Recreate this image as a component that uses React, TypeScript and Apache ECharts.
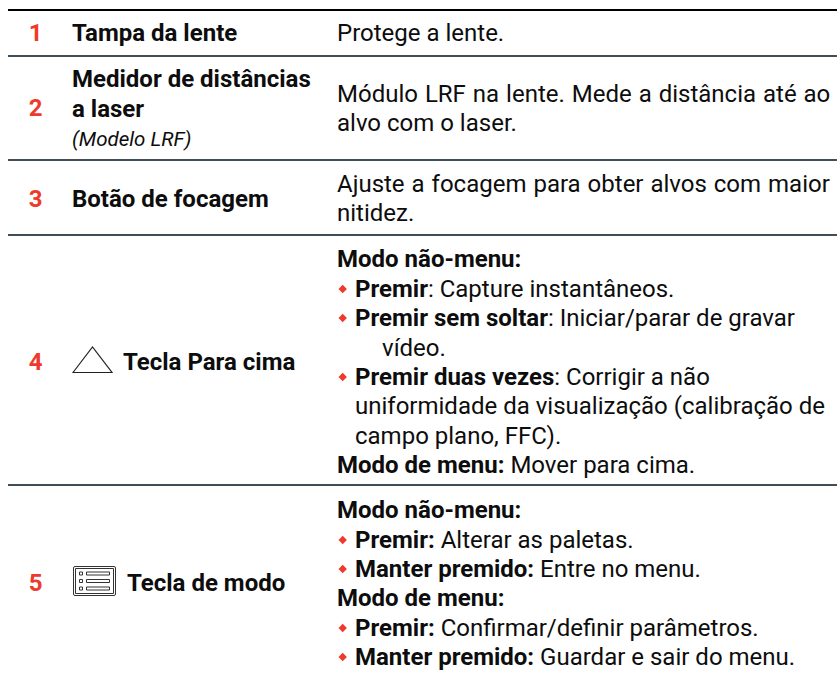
import React, { useEffect, useRef } from "react";
import * as echarts from "echarts";

const numbers = ["1", "2", "3", "4", "5"];
const leftLabels = ["Tampa da lente", "Medidor de distâncias", "a laser", "Botão de focagem", "Tecla Para cima", "Tecla de modo"];
const leftNote = "(Modelo LRF)";
const rightPlain = [
  "Protege a lente.",
  "Módulo LRF na lente. Mede a distância até ao",
  "alvo com o laser.",
  "Ajuste a focagem para obter alvos com maior",
  "nitidez.",
];
const justifiedLines = [rightPlain[1], rightPlain[3]];
const row4 = [
  "{b|Modo não-menu:}",
  "{b|Premir}{r|: Capture instantâneos.}",
  "{b|Premir sem soltar}{r|: Iniciar/parar de gravar}",
  "{r|vídeo.}",
  "{b|Premir duas vezes}{r|: Corrigir a não}",
  "{r|uniformidade da visualização (calibração de}",
  "{r|campo plano, FFC).}",
  "{b|Modo de menu:}{r| Mover para cima.}",
];
const row5 = [
  "{b|Modo não-menu:}",
  "{b|Premir:}{r| Alterar as paletas.}",
  "{b|Manter premido:}{r| Entre no menu.}",
  "{b|Modo de menu:}",
  "{b|Premir:}{r| Confirmar/definir parâmetros.}",
  "{b|Manter premido:}{r| Guardar e sair do menu.}",
];

const FONT = "Roboto";
const SIZE = 24;
const INK = "#0d0d0d";
const RED = "#ee3a2c";
const RULE = "#414e57";

const rich = {
  b: { fontFamily: FONT, fontSize: SIZE, fontWeight: 700, fill: INK, color: INK },
  r: { fontFamily: FONT, fontSize: SIZE, fontWeight: 400, fill: INK, color: INK },
};

function txt(x: number, y: number, text: string, extra: any = {}) {
  return {
    type: "text",
    x,
    y,
    silent: true,
    style: {
      text,
      fontFamily: FONT,
      fontSize: SIZE,
      fontWeight: 400,
      fill: INK,
      verticalAlign: "middle",
      align: "left",
      rich,
      ...extra,
    },
  };
}

function hline(y: number, color: string, w = 2) {
  return { type: "rect", silent: true, shape: { x: 8, y: y - w / 2, width: 829, height: w }, style: { fill: color } };
}

function diamond(cx: number, cy: number) {
  const r = 4.2;
  return {
    type: "polygon",
    silent: true,
    shape: { points: [[cx - r, cy], [cx, cy - r], [cx + r, cy], [cx, cy + r]] },
    style: { fill: RED },
  };
}

function boxR(x: number, y: number, w: number, h: number, r = 0, lw = 1) {
  return {
    type: "rect",
    silent: true,
    shape: { x, y, width: w, height: h, r },
    style: { fill: "none", stroke: "#333333", lineWidth: lw },
  };
}

function buildGraphics() {
  const g: any[] = [];
  g.push(hline(10, "#000000"), hline(56, RULE), hline(160, RULE), hline(235, RULE), hline(485, RULE));

  const numY = [33, 108, 199, 362, 583];
  numbers.forEach((n, i) =>
    g.push(txt(35.7, numY[i], n, { fill: RED, fontWeight: 700, align: "center" }))
  );

  g.push(txt(72, 33, leftLabels[0], { fontWeight: 700 }));
  g.push(txt(72, 79, leftLabels[1], { fontWeight: 700 }));
  g.push(txt(72, 109, leftLabels[2], { fontWeight: 700 }));
  g.push(txt(72, 139, leftNote, { fontStyle: "italic", fontSize: 20.5 }));
  g.push(txt(72, 199, leftLabels[3], { fontWeight: 700 }));
  g.push(txt(123, 362, leftLabels[4], { fontWeight: 700 }));
  g.push(txt(127, 583, leftLabels[5], { fontWeight: 700 }));

  const plainY = [33, 94, 123, 184, 213];
  rightPlain.forEach((t, i) => g.push(txt(337, plainY[i], t)));

  const row4Y = [259, 289, 318, 348, 377, 406, 436, 465];
  const row4X = [337, 355, 355, 382, 355, 355, 355, 337];
  row4.forEach((t, i) => g.push(txt(row4X[i], row4Y[i], t)));
  [1, 2, 4].forEach((i) => g.push(diamond(342.7, row4Y[i])));

  const row5Y = [510, 540, 569, 598, 628, 657];
  const row5X = [337, 355, 355, 337, 355, 355];
  row5.forEach((t, i) => g.push(txt(row5X[i], row5Y[i], t)));
  [1, 2, 4, 5].forEach((i) => g.push(diamond(342.7, row5Y[i])));

  // Up-key triangle
  g.push({
    type: "polygon",
    silent: true,
    shape: { points: [[73, 372.5], [92.5, 347], [112, 372.5]] },
    style: { fill: "none", stroke: "#222222", lineWidth: 1.2 },
  });

  // Mode-key icon
  g.push(boxR(73.5, 566.5, 42, 29, 1.5));
  g.push(boxR(75.5, 568.5, 38, 25));
  [573.5, 581, 588.5].forEach((y) => {
    g.push(boxR(79.5, y - 1.5, 3, 3));
    g.push(boxR(86.5, y - 1.5, 23, 3));
  });
  return g;
}

export default function App() {
  const ref = useRef<HTMLDivElement>(null);
  useEffect(() => {
    document.body.style.margin = "0";
    const chart = echarts.init(ref.current!, null, { renderer: "svg" });
    chart.setOption({
      animation: false,
      backgroundColor: "#ffffff",
      graphic: { elements: buildGraphics() },
    });
    // The two full-measure lines of the original are justified: widen their word gaps.
    ref.current!.querySelectorAll("text").forEach((node) => {
      if (justifiedLines.includes(node.textContent || "")) node.setAttribute("word-spacing", "1");
    });
    return () => chart.dispose();
  }, []);
  return <div ref={ref} style={{ width: 837, height: 674 }} />;
}
